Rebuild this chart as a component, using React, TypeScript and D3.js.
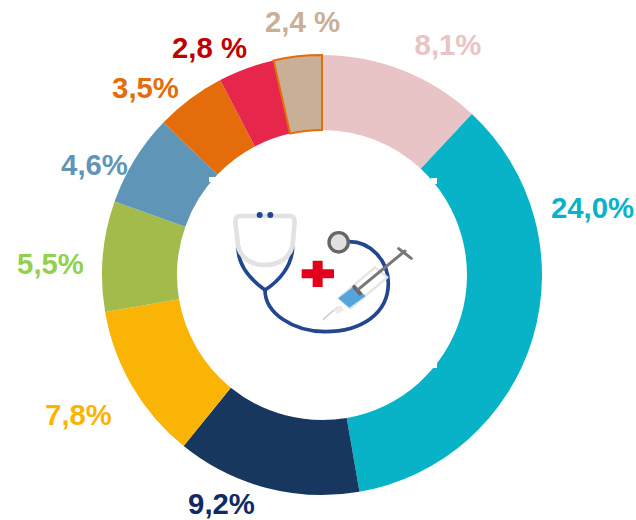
import React from "react";
import * as d3 from "d3";

const labels = ["8,1%", "24,0%", "9,2%", "7,8%", "5,5%", "4,6%", "3,5%", "2,8 %", "2,4 %"];
const values = [8.1, 24.0, 9.2, 7.8, 5.5, 4.6, 3.5, 2.8, 2.4];
const sliceColors = ["#e8c4c6", "#08b3c7", "#17375e", "#fab406", "#a3bb4b", "#5f96b8", "#e46c0a", "#e7264c", "#c9af96"];
const labelColors = ["#e8c4c6", "#08b3c7", "#0f2a66", "#fab406", "#92d050", "#5f96b8", "#e46c0a", "#c00000", "#c9af96"];
const labelAnchors: [number, number][] = [
  [448, 55], [592.5, 218], [221.5, 514], [78.5, 425], [50.5, 274], [94.5, 175], [145.5, 98], [209.5, 58], [302.5, 32],
];

const W = 636, H = 520, CX = 322, CY = 275, RO = 220, RI = 145;

export default function App() {
  const pie = d3.pie<number>().sort(null).startAngle(0).endAngle(2 * Math.PI);
  const arcs = pie(values);
  const arc = d3.arc<d3.PieArcDatum<number>>().innerRadius(RI).outerRadius(RO);
  return (
    <svg width={W} height={H} style={{ position: "absolute", left: 0, top: 0, background: "#fff" }}>
      <defs>
        <filter id="soft" x="-5%" y="-5%" width="110%" height="110%">
          <feGaussianBlur stdDeviation="0.5" />
        </filter>
      </defs>
      <g transform={`translate(${CX},${CY})`}>
        {arcs.map((a, i) => i !== 8 && <path key={i} d={arc(a) as string} fill={sliceColors[i]} />)}
        <path d={arc(arcs[8]) as string} fill={sliceColors[8]} stroke="#e46c0a" strokeWidth={2} />
      </g>
      <rect x={209} y={177} width={6} height={5} fill="#fff" />
      <rect x={431} y={178} width={6} height={6} fill="#fff" />
      <rect x={431} y={362} width={6} height={6} fill="#fff" />
      {labels.map((t, i) => (
        <text key={t} x={labelAnchors[i][0]} y={labelAnchors[i][1]} textAnchor="middle"
          fontFamily="'Liberation Sans', Arial, sans-serif" fontWeight={700} fontSize={29.3} fill={labelColors[i]}>{t}</text>
      ))}
      <g transform="translate(210,190) scale(0.3333)" fill="none" strokeLinecap="round" strokeLinejoin="round" filter="url(#soft)">
        <path d="M84 172 C84 230 130 275 165 300 C205 275 246 230 248 172" stroke="#24468f" strokeWidth={11} />
        <path d="M165 300 C165 370 250 425 345 425 C455 425 535 370 535 280 C535 210 480 155 418 155" stroke="#24468f" strokeWidth={11} />
        <path d="M90 78 L240 78 Q254 78 254 95 L248 165 C240 205 205 225 165 225 C125 225 90 205 84 165 L76 95 Q76 78 90 78 Z" stroke="#e2e2e2" strokeWidth={14} />
        <circle cx={149} cy={75} r={9} fill="#24468f" />
        <circle cx={181} cy={75} r={9} fill="#24468f" />
        <circle cx={386} cy={157} r={29} fill="#e0e0e0" stroke="#666" strokeWidth={10} />
        <path d="M275 238 H308 V212 H338 V238 H372 V265 H338 V291 H308 V265 H275 Z" fill="#e2001a" />
        <path d="M340 388 L382 352" stroke="#c8c8c8" strokeWidth={4} />
        <path d="M370 360 L392 345 L402 360 L382 372 Z" fill="#ececec" />
        <path d="M385 325 L495 232 L532 262 L422 355 Z" fill="#fff" stroke="#e4e4e4" strokeWidth={7} />
        <path d="M385 325 L433 288 L467 318 L418 353 Z" fill="#53a5db" />
        <path d="M433 291 L450 310" stroke="#666" strokeWidth={12} />
        <path d="M445 298 L585 183" stroke="#777" strokeWidth={9} />
        <path d="M566 176 L604 205" stroke="#777" strokeWidth={9} />
      </g>
    </svg>
  );
}
